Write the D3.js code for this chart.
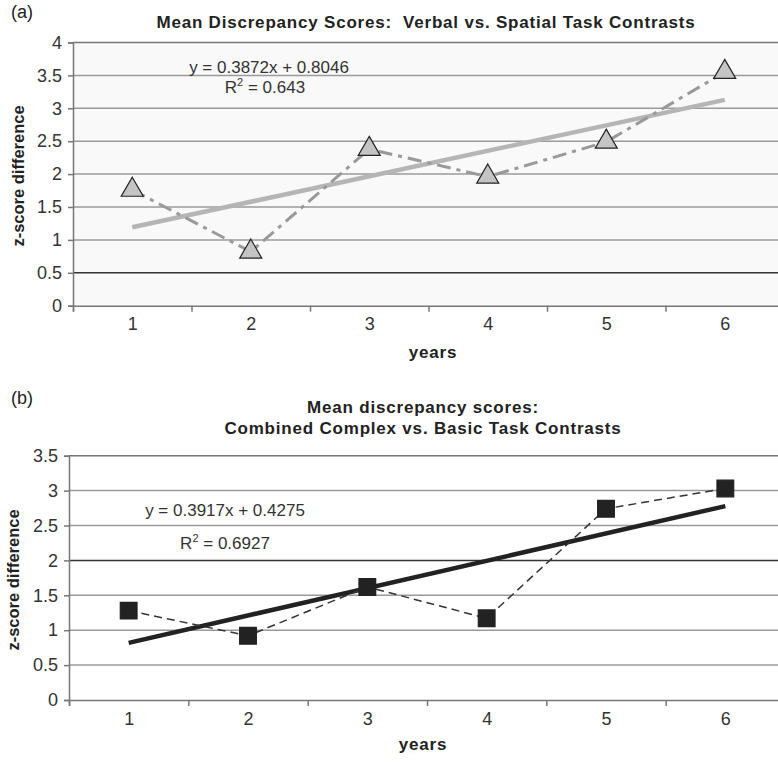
<!DOCTYPE html>
<html>
<head>
<meta charset="utf-8">
<script src="https://cdnjs.cloudflare.com/ajax/libs/d3/7.8.5/d3.min.js"></script>
<style>
  body { margin: 0; background: #fff; }
  svg { display: block; font-family: 'Liberation Sans', Arial, sans-serif; }
</style>
</head>
<body>
<svg width="778" height="765"></svg>
<script>
const years = [1, 2, 3, 4, 5, 6]

// panel (a)
const verbalSpatial = [1.76, 0.82, 2.38, 1.96, 2.49, 3.55]
const yTicksA = [0, 0.5, 1, 1.5, 2, 2.5, 3, 3.5, 4]
const trendA = { slope: 0.3872, intercept: 0.8046, eq: 'y = 0.3872x + 0.8046', r2: '0.643' }

// panel (b)
const complexBasic = [1.28, 0.92, 1.62, 1.17, 2.74, 3.03]
const yTicksB = [0, 0.5, 1, 1.5, 2, 2.5, 3, 3.5]
const trendB = { slope: 0.3917, intercept: 0.4275, eq: 'y = 0.3917x + 0.4275', r2: '0.6927' }

const svg = d3.select('svg')

function drawPanel(p) {
  const g = svg.append('g')

  const x = d3.scaleLinear().domain([0.5, 6.5]).range([p.left, p.right])
  const y = d3.scaleLinear().domain([0, d3.max(p.yTicks)]).range([p.bottom, p.top])

  // plot background
  g.append('rect')
    .attr('x', p.left).attr('y', p.top)
    .attr('width', p.right - p.left).attr('height', p.bottom - p.top)
    .attr('fill', p.bg)

  // gridlines
  g.selectAll('.grid')
    .data(p.yTicks.filter(d => d > 0))
    .enter().append('line')
    .attr('x1', p.left).attr('x2', p.right)
    .attr('y1', d => y(d)).attr('y2', d => y(d))
    .attr('stroke', d => d === p.darkGrid ? '#333' : (d === d3.max(p.yTicks) ? '#777' : '#9a9a9a'))
    .attr('stroke-width', 1.5)

  // y axis
  const yAxis = g.append('g')
    .attr('transform', `translate(${p.left},0)`)
    .call(d3.axisLeft(y).tickValues(p.yTicks).tickSize(5).tickPadding(6).tickFormat(d3.format('')))
  yAxis.select('.domain').attr('stroke', '#777').attr('stroke-width', 1.5)
  yAxis.selectAll('.tick line').attr('stroke', '#777').attr('stroke-width', 1.5)
  yAxis.selectAll('text').attr('font-size', 18).attr('fill', '#333')

  // x axis: tick marks between categories, labels centered
  const xAxis = g.append('g')
    .attr('transform', `translate(0,${p.bottom})`)
    .call(d3.axisBottom(x).tickValues([0.5, 1.5, 2.5, 3.5, 4.5, 5.5, 6.5]).tickSize(6).tickFormat(''))
  xAxis.select('.domain').attr('stroke', '#777').attr('stroke-width', 1.5)
  xAxis.selectAll('.tick line').attr('stroke', '#777').attr('stroke-width', 1.5)

  const xLabels = g.append('g')
    .attr('transform', `translate(0,${p.bottom})`)
    .call(d3.axisBottom(x).tickValues(years).tickSize(0).tickPadding(12).tickFormat(d3.format('d')))
  xLabels.select('.domain').remove()
  xLabels.selectAll('text').attr('font-size', 18).attr('fill', '#333')

  // trend line
  const trendLine = d3.line().x(d => x(d)).y(d => y(p.trend.slope * d + p.trend.intercept))
  g.append('path')
    .attr('d', trendLine([1, 6]))
    .attr('fill', 'none')
    .attr('stroke', p.trendColor)
    .attr('stroke-width', 4.5)

  // series line
  const line = d3.line().x((d, i) => x(years[i])).y(d => y(d))
  g.append('path')
    .attr('d', line(p.values))
    .attr('fill', 'none')
    .attr('stroke', p.lineColor)
    .attr('stroke-width', p.lineWidth)
    .attr('stroke-dasharray', p.dash)

  // markers
  g.selectAll('.marker')
    .data(p.values)
    .enter().append('path')
    .attr('transform', (d, i) => `translate(${x(years[i])},${y(d)})`)
    .attr('d', d3.symbol().type(p.symbol).size(p.symbolSize))
    .attr('fill', p.markerFill)
    .attr('stroke', '#222')
    .attr('stroke-width', 1.2)

  // equation + R squared
  g.append('text')
    .attr('x', p.eqX).attr('y', p.eqY)
    .attr('text-anchor', 'middle')
    .attr('font-size', 17).attr('fill', '#333')
    .text(p.trend.eq)
  const r2 = g.append('text')
    .attr('x', p.r2X).attr('y', p.r2Y)
    .attr('text-anchor', 'middle')
    .attr('font-size', 17).attr('fill', '#333')
  r2.append('tspan').text('R')
  r2.append('tspan').attr('dy', -7).attr('font-size', 11).text('2')
  r2.append('tspan').attr('dy', 7).text(' = ' + p.trend.r2)

  // titles
  p.title.forEach((t, i) => {
    g.append('text')
      .attr('x', p.titleX).attr('y', p.titleY + i * 21)
      .attr('text-anchor', 'middle')
      .attr('font-size', 17).attr('font-weight', 'bold').attr('fill', '#222')
      .attr('letter-spacing', 0.8)
      .style('white-space', 'pre')
      .text(t)
  })

  g.append('text')
    .attr('x', 11).attr('y', p.tagY)
    .attr('font-size', 18).attr('fill', '#222')
    .text(p.tag)

  g.append('text')
    .attr('transform', `translate(${p.yLabelX},${p.yLabelY}) rotate(-90)`)
    .attr('text-anchor', 'middle')
    .attr('font-size', 16.5).attr('font-weight', 'bold').attr('fill', '#222')
    .text('z-score difference')

  g.append('text')
    .attr('x', p.xLabelX).attr('y', p.xLabelY)
    .attr('text-anchor', 'middle')
    .attr('font-size', 17).attr('font-weight', 'bold').attr('fill', '#222')
    .attr('letter-spacing', 0.8)
    .text('years')
}

drawPanel({
  left: 73, right: 784, top: 42.5, bottom: 305.7,
  yTicks: yTicksA, values: verbalSpatial, trend: trendA,
  bg: '#f9f9f9', darkGrid: 0.5,
  trendColor: '#b5b5b5', lineColor: '#999', lineWidth: 3, dash: '14,6,4,6',
  symbol: d3.symbolTriangle, symbolSize: 210, markerFill: '#c4c4c4',
  eqX: 269, eqY: 73, r2X: 265, r2Y: 93,
  title: ['Mean Discrepancy Scores:  Verbal vs. Spatial Task Contrasts'], titleX: 426, titleY: 28,
  tag: '(a)', tagY: 18,
  yLabelX: 24, yLabelY: 176, xLabelX: 433, xLabelY: 358
})

drawPanel({
  left: 69, right: 785, top: 455.7, bottom: 700,
  yTicks: yTicksB, values: complexBasic, trend: trendB,
  bg: '#fff', darkGrid: 2,
  trendColor: '#222', lineColor: '#333', lineWidth: 1.5, dash: '8,5',
  symbol: d3.symbolSquare, symbolSize: 280, markerFill: '#222',
  eqX: 225, eqY: 516, r2X: 225, r2Y: 549,
  title: ['Mean discrepancy scores:', 'Combined Complex vs. Basic Task Contrasts'], titleX: 423, titleY: 413,
  tag: '(b)', tagY: 404,
  yLabelX: 19, yLabelY: 580, xLabelX: 423, xLabelY: 750
})
</script>
</body>
</html>
